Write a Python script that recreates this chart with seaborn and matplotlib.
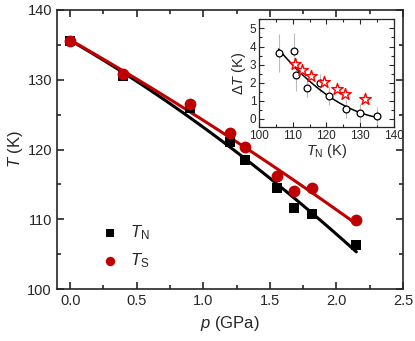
import numpy as np
import pandas as pd
import matplotlib
matplotlib.use('Agg')
import matplotlib.pyplot as plt
import seaborn as sns
from matplotlib.ticker import MultipleLocator

# main panel data
p_gpa = [0.0, 0.4, 0.9, 1.2, 1.31, 1.55, 1.68, 1.82, 2.15]
t_n = [135.5, 130.5, 126.0, 121.1, 118.5, 114.5, 111.6, 110.7, 106.3]
t_s = [135.6, 130.8, 126.5, 122.4, 120.4, 116.2, 114.1, 114.5, 109.9]

# inset data
inset_tn = [105.8, 110.3, 111.1, 114.2, 118.0, 120.7, 125.7, 130.0, 135.1]
inset_dt = [3.64, 3.76, 2.44, 1.70, 1.96, 1.26, 0.52, 0.31, 0.14]
inset_err = [1.05, 1.0, 0.9, 0.5, 0.5, 0.5, 0.5, 0.5, 0.5]
star_tn = [110.7, 112.7, 115.5, 119.3, 123.2, 125.4, 131.5]
star_dt = [3.05, 2.72, 2.37, 2.03, 1.63, 1.39, 1.09]

sns.set_style('ticks')
plt.rcParams['font.family'] = ['Liberation Sans', 'DejaVu Sans']
plt.rcParams['mathtext.fontset'] = 'custom'
plt.rcParams['mathtext.rm'] = 'Liberation Sans'
plt.rcParams['mathtext.it'] = 'Liberation Sans:italic'

red = '#c00000'
df = pd.DataFrame({'p': p_gpa, 'TN': t_n, 'TS': t_s})

fig = plt.figure(figsize=(4.15, 3.41), dpi=100)
ax = fig.add_axes([0.137, 0.152, 0.834, 0.819])

# quadratic fits
pp = np.linspace(0, max(p_gpa), 100)
fit_n = np.polyval(np.polyfit(p_gpa, t_n, 2), pp)
fit_s = np.polyval(np.polyfit(p_gpa, t_s, 2), pp)
sns.lineplot(x=pp, y=fit_n, color='black', lw=2.2, ax=ax)
sns.lineplot(x=pp, y=fit_s, color=red, lw=2.2, ax=ax)

sns.scatterplot(data=df, x='p', y='TN', marker='s', s=52, color='black',
                edgecolor='black', linewidth=0, ax=ax, zorder=3,
                label=r'$T_\mathrm{N}$')
sns.scatterplot(data=df, x='p', y='TS', marker='o', s=72, color=red,
                edgecolor=red, linewidth=0, ax=ax, zorder=3,
                label=r'$T_\mathrm{S}$')

ax.set_xlim(-0.1, 2.5)
ax.set_ylim(100, 140)
ax.xaxis.set_major_locator(MultipleLocator(0.5))
ax.xaxis.set_minor_locator(MultipleLocator(0.25))
ax.yaxis.set_major_locator(MultipleLocator(10))
ax.yaxis.set_minor_locator(MultipleLocator(5))
ax.tick_params(which='both', direction='in', top=True, right=True, width=1.2)
ax.tick_params(which='major', length=5, labelsize=10.5)
ax.tick_params(which='minor', length=3)
ax.set_xticks([0, 0.5, 1.0, 1.5, 2.0, 2.5])
ax.set_xticklabels(['0.0', '0.5', '1.0', '1.5', '2.0', '2.5'])
for s in ax.spines.values():
    s.set_linewidth(1.2)
ax.set_xlabel(r'$p$ (GPa)', fontsize=12)
ax.set_ylabel(r'$T$ (K)', fontsize=12, labelpad=2)

leg = ax.legend(loc='lower left', bbox_to_anchor=(0.08, 0.015), frameon=False,
                fontsize=12, handletextpad=0.6, labelspacing=0.55,
                handlelength=1.2, markerscale=0.8)

# inset
ins = fig.add_axes([0.624, 0.628, 0.325, 0.315])
ins.errorbar(inset_tn, inset_dt, yerr=inset_err, fmt='none',
             ecolor='#bbbbbb', elinewidth=0.8, capsize=0, zorder=1)
tt = np.linspace(min(inset_tn), max(inset_tn), 100)
fit_dt = np.polyval(np.polyfit(inset_tn, inset_dt, 2), tt)
sns.lineplot(x=tt, y=fit_dt, color='black', lw=1.1, ax=ins, zorder=2)
sns.scatterplot(x=inset_tn, y=inset_dt, marker='o', s=24,
                facecolor='white', edgecolor='black', linewidth=0.9,
                ax=ins, zorder=3)
sns.scatterplot(x=star_tn, y=star_dt, marker='*', s=75,
                facecolor='white', edgecolor='red', linewidth=1.0,
                ax=ins, zorder=4)
ins.set_xlim(100, 140)
ins.set_ylim(-0.45, 5.5)
ins.xaxis.set_major_locator(MultipleLocator(10))
ins.xaxis.set_minor_locator(MultipleLocator(5))
ins.yaxis.set_major_locator(MultipleLocator(1))
ins.yaxis.set_minor_locator(MultipleLocator(0.5))
ins.tick_params(which='both', direction='in', top=True, right=True, width=0.8,
                pad=2)
ins.tick_params(which='major', length=3.5, labelsize=8.5)
ins.tick_params(which='minor', length=2)
for s in ins.spines.values():
    s.set_linewidth(0.9)
ins.set_xlabel(r'$T_\mathrm{N}$ (K)', fontsize=10.5, labelpad=0)
ins.set_ylabel(r'$\Delta T$ (K)', fontsize=10.5, labelpad=1)

fig.savefig('out.png', dpi=100)
